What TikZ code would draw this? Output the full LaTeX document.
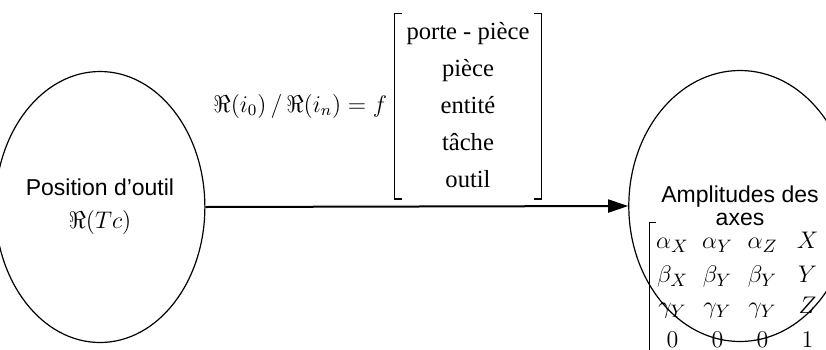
\documentclass[tikz,border=0pt]{standalone}
\usepackage{fontspec}
\setmainfont{Liberation Serif}
\setsansfont{Liberation Sans}
\usetikzlibrary{shapes.geometric,arrows.meta,matrix,positioning}

\begin{document}
\begin{tikzpicture}[x=0.5pt, y=-0.5pt,
    bulle/.style={draw, ellipse, line width=0.6pt, inner sep=0pt, minimum height=135.5pt, align=center, font=\sffamily\fontsize{11.5}{11.5}\selectfont}]
  \useasboundingbox (0,0) rectangle (826,349);
  \clip (0,0) rectangle (826,349);
  \node[bulle, minimum width=85pt] (pos) at (100,207) {Position d’outil\\[5pt]{\rmfamily\fontsize{13}{14}\selectfont$\Re(Tc)$}};
  \node[bulle, minimum width=88pt] (ampl) at (740,206) {Amplitudes des\\axes};
  \draw[line width=1pt, -{Triangle[length=10pt, width=6.5pt]}] (pos.east) -- (ampl.west);
  \node[inner sep=0pt, font=\fontsize{12.3}{18.5}\selectfont] (choix) at (468,106) {\begin{tabular}{c}porte - pièce\\ pièce\\ entité\\ tâche\\ outil\end{tabular}};
  \draw[line width=0.6pt] ([xshift=4pt]choix.north west) -- (choix.north west) -- (choix.south west) -- ++(8,0);
  \draw[line width=0.6pt] ([xshift=-4pt]choix.north east) -- (choix.north east) -- (choix.south east) -- ++(-8,0);
  \node[left=0pt of choix, font=\fontsize{12}{14}\selectfont] (rel) {$\Re(i_0)\,/\,\Re(i_n) = f$};
  \matrix (rot) [matrix of math nodes, inner sep=0pt, row sep=3.5pt, font=\fontsize{13}{14}\selectfont,
      nodes={minimum width=22.5pt, minimum height=11pt, inner sep=0pt}] at (740,290) {
    \alpha_X & \alpha_Y & \alpha_Z & X \\
    \beta_X & \beta_Y & \beta_Y & Y \\
    \gamma_Y & \gamma_Y & \gamma_Y & Z \\
    0 & 0 & 0 & 1 \\
  };
  \draw[line width=0.6pt] ([xshift=3pt,yshift=3pt]rot.north west) -- ([yshift=3pt]rot.north west) -- ([yshift=-5pt]rot.south west);
\end{tikzpicture}
\end{document}
